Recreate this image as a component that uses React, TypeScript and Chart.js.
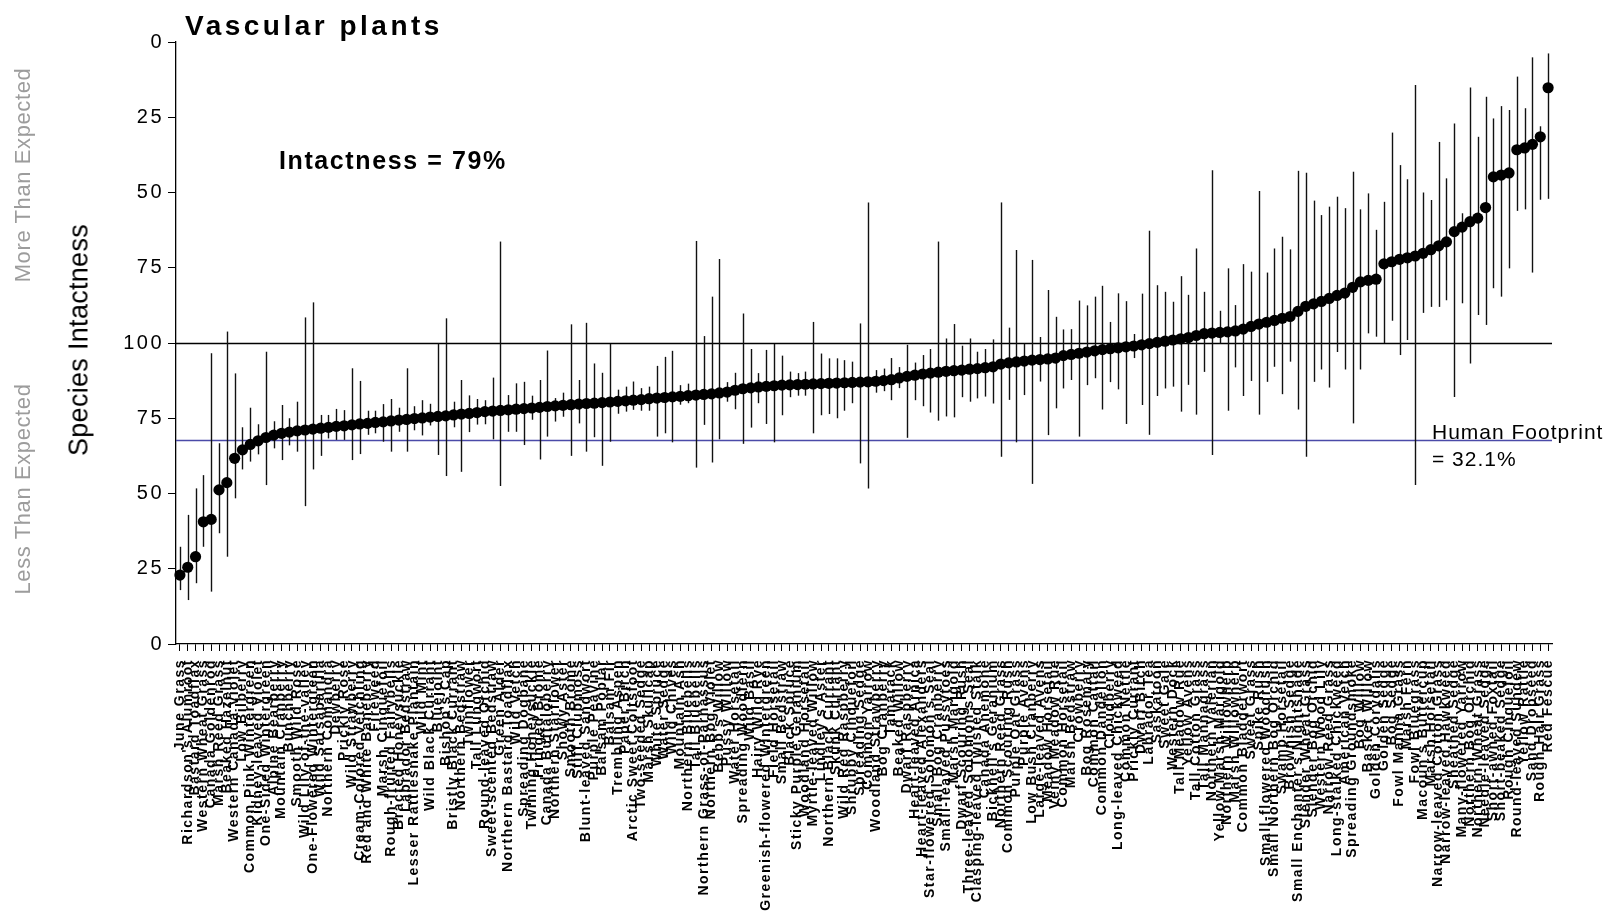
import React, { useEffect, useRef } from "react";
import { Chart, registerables } from "chart.js";

Chart.register(...registerables);

const species: string[] = [
  "June Grass", "Richardson's Alumroot", "Bastard Toadflax", "Western Wheat Grass", "Canada Goldenrod",
  "Marsh Reed Grass", "Beaked Hazelnut", "Western Canada Violet", "Low Bilberry", "Common Pink Wintergreen",
  "Kidney-leaved Violet", "One-Sided Wintergreen", "Alpine Bearberry", "Mountain Cranberry", "Bunchberry",
  "Smooth Wild Rose", "Wild Lily-of-the-valley", "One-Flowered Wintergreen", "Wild Sarsaparilla", "Northern Comandra",
  "Dewberry", "Prickly Rose", "Wild Strawberry", "Cream-Colored Vetchling", "Red and White Baneberry",
  "Fireweed", "Marsh Cinquefoil", "Rough-fruited Fairybells", "Bracted Honeysuckle", "Labrador Bedstraw",
  "Lesser Rattlesnake Plantain", "Wild Mint", "Wild Black Currant", "Bluejoint", "Bishop's Cap",
  "Bristly Black Currant", "Northern Bedstraw", "Twinflower", "Tall Lungwort", "Round-leaved Orchid",
  "Sweet-scented Bedstraw", "Green Alder", "Northern Bastard Toadflax", "Wild Vetch", "Spreading Dogbane",
  "Twining Honeysuckle", "Fringed Brome", "Canada Buffaloberry", "Northern Starflower", "Showy Aster",
  "Smooth Brome", "Stiff Clubmoss", "Blunt-leaved Sandwort", "Purple Peavine", "Balsam Poplar",
  "Balsam Fir", "Trembling Aspen", "Paper Birch", "Arctic Sweet Coltsfoot", "Two-seeded Sedge",
  "Marsh Skullcap", "White Spruce", "Water Sedge", "Wild Chives", "Mountain Ash",
  "Northern Bluebells", "Tall Bluebells", "Northern Grass-of-Parnassus", "Northern Bog Violet", "Bebb's Willow",
  "Pussy Willow", "Water Horsetail", "Spreading Woodfern", "Wild Basil", "Hairy Wild Rye",
  "Greenish-flowered Wintergreen", "Field Horsetail", "Small Bedstraw", "Black Spruce", "Sticky Purple Geranium",
  "Woodland Horsetail", "Myrtle-leaved Willow", "Lindley's Aster", "Northern Black Currant", "Skunk Currant",
  "Wild Red Raspberry", "Shrubby Cinquefoil", "Spreading Sedge", "Common Yarrow", "Woodland Strawberry",
  "Bog Cranberry", "Tamarack", "Beaked Willow", "Dwarf Raspberry", "Heart-leaved Arnica",
  "Heart-leaved Alexanders", "Star-flowered Solomon's Seal", "Small Bog Cranberry", "Small-leaved Pussytoes", "Marsh Marigold",
  "Dwarf Scouring Rush", "Three-leaved Solomon's Seal", "Clasping-leaved Twisted Stalk", "Canada Anemone", "Bicknell's Geranium",
  "Northern Reed Grass", "Common Scouring Rush", "Purple Oat Grass", "Purple Avens", "Low Bush Cranberry",
  "Large-leaved Avens", "Meadow Horsetail", "Veiny Meadow Rue", "Common Horsetail", "Marsh Bedstraw",
  "Crowberry", "Bog Rosemary", "Common Cattail", "Common Dandelion", "Cloudberry",
  "Long-leaved Chickweed", "Common Nettle", "Prickly Currant", "Dwarf Birch", "Labrador Tea",
  "Saskatoon", "Sweet Gale", "Western Dock", "Tall Meadow Rue", "Yellow Avens",
  "Tall Cotton Grass", "Tall Mannagrass", "Northern Valerian", "Yellow Marsh Marigold", "Northern Willowherb",
  "Marsh Willowherb", "Common Bladderwort", "Sweet Grass", "Spike Rush", "Small-flowered Woodrush",
  "Small Northern Bog Orchid", "Swamp Horsetail", "Brownish Sedge", "Small Enchanter's Nightshade", "Slender Wheat Grass",
  "Slender Bog Orchid", "Western Wood Lily", "Narrow Reed Grass", "Long-stalked Chickweed", "American Vetch",
  "Spreading Groundsmoke", "Bog Willow", "Basket Willow", "Golden Corydalis", "Golden Sedge",
  "Bog Sedge", "Fowl Manna Grass", "Marsh Fern", "Fowl Bluegrass", "Macoun's Buttercup",
  "Marsh Horsetail", "Narrow-leaved Cotton Grass", "Narrow-leaved Hawkweed", "Sheathed Sedge", "Many-flowered Yarrow",
  "Northern Bog Orchid", "Northern Wheat Grass", "Needle-leaved Sedge", "Short-awned Foxtail", "Short-beaked Sedge",
  "Rough Cinquefoil", "Round-leaved Sundew", "Yellow Rattle", "Sand Dropseed", "Rough Hair Grass",
  "Red Fescue",
];

const intactness: number[] = [
  22.9, 25.5, 29.0, 40.6, 41.4, 51.2, 53.6, 61.7, 64.5, 66.3,
  67.5, 68.6, 69.4, 70.0, 70.4, 70.8, 71.1, 71.4, 71.7, 72.0,
  72.3, 72.5, 72.8, 73.1, 73.3, 73.6, 73.8, 74.1, 74.4, 74.6,
  74.9, 75.1, 75.4, 75.6, 75.8, 76.1, 76.4, 76.6, 76.9, 77.2,
  77.4, 77.6, 77.8, 78.0, 78.2, 78.4, 78.6, 78.9, 79.1, 79.3,
  79.5, 79.7, 79.9, 80.0, 80.2, 80.4, 80.6, 80.8, 81.0, 81.2,
  81.5, 81.7, 81.9, 82.1, 82.3, 82.5, 82.7, 82.9, 83.1, 83.4,
  83.7, 84.3, 84.8, 85.1, 85.4, 85.6, 85.8, 86.0, 86.1, 86.2,
  86.3, 86.4, 86.5, 86.6, 86.7, 86.8, 86.9, 87.0, 87.1, 87.3,
  87.5, 87.8, 88.4, 88.9, 89.3, 89.7, 90.0, 90.3, 90.6, 90.8,
  91.0, 91.3, 91.5, 91.8, 92.1, 93.0, 93.4, 93.7, 94.0, 94.3,
  94.5, 94.7, 95.0, 95.8, 96.2, 96.6, 97.0, 97.4, 97.8, 98.1,
  98.4, 98.7, 99.0, 99.4, 99.8, 100.2, 100.6, 101.0, 101.4, 101.8,
  102.5, 103.1, 103.3, 103.5, 103.7, 104.0, 104.6, 105.5, 106.3, 106.9,
  107.5, 108.2, 108.8, 110.5, 112.2, 113.0, 113.8, 114.8, 115.8, 116.6,
  118.5, 120.3, 120.8, 121.2, 126.3, 127.0, 127.8, 128.3, 128.9, 129.8,
  131.0, 132.3, 133.6, 137.0, 138.5, 140.3, 141.5, 145.0, 155.2, 155.8,
  156.5, 164.2, 164.8, 166.0, 168.5, 184.8,
];

const lowerCI: number[] = [
  17.9, 14.6, 20.2, 32.3, 17.4, 36.8, 29.0, 48.4, 58.0, 60.6,
  63.0, 52.8, 65.0, 61.1, 66.0, 63.9, 45.8, 58.0, 62.5, 68.3,
  67.8, 67.8, 61.1, 63.1, 69.5, 70.0, 67.2, 63.9, 70.5, 63.9,
  71.0, 69.3, 72.6, 62.8, 55.8, 72.0, 57.2, 70.4, 72.9, 73.0,
  68.0, 52.5, 70.5, 70.5, 66.1, 74.5, 61.3, 68.9, 73.9, 75.5,
  62.5, 73.3, 63.9, 68.7, 59.2, 67.2, 76.5, 77.2, 77.8, 77.5,
  77.5, 68.9, 70.0, 67.0, 79.5, 80.0, 58.6, 72.8, 60.3, 68.0,
  80.5, 78.0, 66.5, 71.9, 80.0, 73.1, 67.0, 76.0, 82.0, 82.5,
  82.5, 70.0, 76.0, 76.4, 75.0, 77.5, 80.0, 60.0, 51.7, 83.5,
  84.0, 81.0, 85.0, 68.5, 81.0, 79.0, 76.9, 74.2, 75.6, 75.3,
  82.0, 80.5, 81.6, 82.2, 79.9, 62.2, 81.1, 67.0, 82.7, 53.2,
  87.2, 69.4, 78.3, 84.9, 87.7, 68.9, 86.0, 88.3, 77.9, 87.0,
  84.6, 73.1, 95.0, 79.4, 69.5, 82.4, 84.9, 85.5, 77.2, 86.1,
  76.2, 90.4, 62.8, 99.8, 77.5, 91.9, 82.4, 87.4, 76.2, 87.1,
  92.1, 83.0, 93.8, 77.9, 62.2, 87.1, 91.2, 85.2, 97.0, 91.2,
  73.3, 91.2, 103.2, 102.1, 100.0, 107.4, 96.0, 101.0, 52.8, 110.0,
  112.0, 112.0, 114.2, 82.1, 113.2, 93.2, 109.3, 106.0, 118.2, 115.4,
  124.8, 143.9, 144.4, 123.4, 147.6, 147.9,
];

const upperCI: number[] = [
  32.3, 42.9, 51.7, 56.1, 96.6, 66.7, 103.8, 89.9, 72.0, 78.5,
  73.0, 97.1, 74.0, 79.4, 75.0, 80.5, 108.5, 113.5, 76.1, 76.1,
  78.1, 77.7, 91.6, 87.4, 77.5, 77.5, 79.7, 81.4, 78.5, 91.6,
  79.0, 81.0, 79.8, 99.9, 108.2, 80.5, 87.7, 82.6, 81.4, 81.0,
  88.5, 133.7, 82.7, 86.6, 87.1, 82.5, 87.7, 97.5, 81.7, 83.5,
  106.2, 87.7, 106.7, 93.2, 90.1, 99.7, 84.5, 85.5, 87.2, 85.0,
  85.5, 92.4, 95.4, 97.4, 86.0, 86.5, 133.9, 102.3, 115.4, 127.9,
  87.0, 90.1, 109.8, 98.0, 90.0, 97.7, 99.7, 95.8, 90.5, 90.0,
  90.5, 107.0, 96.5, 94.9, 94.9, 94.3, 93.8, 106.5, 146.7, 91.0,
  91.5, 95.0, 92.0, 99.4, 93.5, 96.0, 98.0, 133.7, 101.5, 106.3,
  99.1, 101.5, 97.1, 98.0, 101.2, 146.7, 105.1, 130.9, 99.8, 127.6,
  102.0, 117.6, 108.7, 104.5, 104.6, 114.1, 112.5, 115.4, 119.0, 107.0,
  116.5, 113.9, 103.0, 116.4, 137.3, 119.2, 117.0, 113.7, 122.2, 116.0,
  131.4, 117.0, 157.4, 110.7, 124.8, 112.6, 126.2, 123.7, 150.5, 123.4,
  131.4, 135.3, 131.1, 157.2, 156.6, 147.3, 142.5, 145.3, 148.6, 144.8,
  156.9, 144.4, 149.7, 137.6, 146.9, 169.9, 159.1, 154.4, 185.7, 150.0,
  147.5, 166.8, 154.7, 172.9, 143.1, 184.9, 168.5, 181.8, 174.6, 178.7,
  177.4, 188.5, 178.0, 194.9, 172.0, 196.2,
];

const yTicks: number[] = [0, 25, 50, 75, 100, 125, 150, 175, 200];
const referenceLevel = 100;
const humanFootprintLevel = 67.9;
const humanFootprintText = ["Human Footprint", "= 32.1%"];
const chartTitle = "Vascular plants";
const intactnessText = "Intactness = 79%";

const FONT = "'Liberation Sans', Arial, Helvetica, sans-serif";

export default function App() {
  const canvasRef = useRef<HTMLCanvasElement | null>(null);

  useEffect(() => {
    if (!canvasRef.current) return;

    const letterSpacingPlugin = {
      id: "axisLetterSpacing",
      afterLayout(chart: any) {
        const spec: [string, string][] = [["x", "1.5px"], ["y", "2.5px"]];
        for (const [id, ls] of spec) {
          const s = chart.scales[id];
          if (!s || s.__lsPatched) continue;
          const orig = s.drawLabels.bind(s);
          s.drawLabels = (area: any) => {
            const ctx = s.ctx;
            const prev = ctx.letterSpacing;
            ctx.letterSpacing = ls;
            orig(area);
            ctx.letterSpacing = prev || "0px";
          };
          s.__lsPatched = true;
        }
      },
    };

    const errorBarsPlugin = {
      id: "errorBars",
      beforeDatasetsDraw(chart: any) {
        const { ctx, chartArea } = chart;
        const x = chart.scales.x;
        const y = chart.scales.y;
        ctx.save();
        ctx.lineWidth = 1.3;
        ctx.strokeStyle = "#000";
        let yy = Math.round(y.getPixelForValue(referenceLevel)) + 0.5;
        ctx.beginPath();
        ctx.moveTo(chartArea.left, yy);
        ctx.lineTo(chartArea.right, yy);
        ctx.stroke();
        ctx.strokeStyle = "#4a4aa8";
        yy = Math.round(y.getPixelForValue(humanFootprintLevel)) + 0.5;
        ctx.beginPath();
        ctx.moveTo(chartArea.left, yy);
        ctx.lineTo(chartArea.right, yy);
        ctx.stroke();
        ctx.strokeStyle = "#111";
        ctx.lineWidth = 1.4;
        for (let i = 0; i < intactness.length; i++) {
          const px = Math.round(x.getPixelForValue(i)) + 0.5;
          ctx.beginPath();
          ctx.moveTo(px, y.getPixelForValue(lowerCI[i]));
          ctx.lineTo(px, y.getPixelForValue(upperCI[i]));
          ctx.stroke();
        }
        ctx.restore();
      },
    };

    const chart = new Chart(canvasRef.current, {
      type: "line",
      data: {
        labels: species,
        datasets: [
          {
            data: intactness,
            showLine: false,
            pointRadius: 5.6,
            pointHoverRadius: 5.6,
            pointBackgroundColor: "#000",
            pointBorderColor: "#000",
            pointBorderWidth: 0,
          },
        ],
      },
      options: {
        animation: false,
        responsive: false,
        devicePixelRatio: 1,
        events: [],
        layout: { padding: { top: 42, right: 54, left: 0, bottom: 0 } },
        plugins: {
          legend: { display: false },
          tooltip: { enabled: false },
          title: { display: false },
        },
        scales: {
          x: {
            type: "category",
            offset: true,
            grid: {
              display: true,
              drawOnChartArea: false,
              drawTicks: true,
              tickLength: 7,
              color: "#000",
              lineWidth: 1,
            },
            border: { display: true, color: "#000", width: 1.3 },
            ticks: {
              autoSkip: false,
              minRotation: 90,
              maxRotation: 90,
              padding: 8,
              color: "#000",
              font: { family: FONT, size: 14, weight: "bold" },
            },
            afterFit: (scale: any) => {
              scale.height = 269;
            },
          },
          y: {
            min: 0,
            max: 200,
            afterBuildTicks: (scale: any) => {
              scale.ticks = yTicks.map((v) => ({ value: v }));
            },
            grid: {
              display: true,
              drawOnChartArea: false,
              drawTicks: true,
              tickLength: 8,
              color: "#000",
              lineWidth: 1,
            },
            border: { display: true, color: "#000", width: 1.3 },
            ticks: {
              padding: 4,
              color: "#000",
              font: { family: FONT, size: 20 },
              callback: (v: any) => String(Number(v) <= 100 ? Number(v) : 200 - Number(v)),
            },
            afterFit: (scale: any) => {
              scale.width = 176;
            },
          },
        },
      },
      plugins: [letterSpacingPlugin, errorBarsPlugin],
    } as any);

    chart.draw();

    return () => chart.destroy();
  }, []);

  const base: React.CSSProperties = {
    position: "absolute",
    fontFamily: FONT,
    whiteSpace: "nowrap",
    color: "#000",
    lineHeight: 1,
  };

  return (
    <div style={{ position: "absolute", left: 0, top: 0, width: 1606, height: 913, background: "#fff", overflow: "hidden" }}>
      <canvas ref={canvasRef} width={1606} height={913} style={{ position: "absolute", left: 0, top: 0, width: 1606, height: 913 }} />
      <div style={{ ...base, left: 185, top: 26, transform: "translateY(-50%)", fontSize: 28, fontWeight: "bold", letterSpacing: 3.5 }}>
        {chartTitle}
      </div>
      <div style={{ ...base, left: 279, top: 160, transform: "translateY(-50%)", fontSize: 25, fontWeight: "bold", letterSpacing: 1.6 }}>
        {intactnessText}
      </div>
      <div style={{ ...base, left: 79, top: 340, transform: "translate(-50%, -50%) rotate(-90deg)", fontSize: 27, letterSpacing: 0.3 }}>
        Species Intactness
      </div>
      <div style={{ ...base, left: 23, top: 175, transform: "translate(-50%, -50%) rotate(-90deg)", fontSize: 22, color: "#9c9c9c", letterSpacing: 0.6 }}>
        More Than Expected
      </div>
      <div style={{ ...base, left: 23, top: 489, transform: "translate(-50%, -50%) rotate(-90deg)", fontSize: 22, color: "#9c9c9c", letterSpacing: 0.6 }}>
        Less Than Expected
      </div>
      <div style={{ ...base, left: 1432, top: 418, fontSize: 21, lineHeight: "27px", letterSpacing: 1 }}>
        <div>{humanFootprintText[0]}</div>
        <div>{humanFootprintText[1]}</div>
      </div>
    </div>
  );
}
